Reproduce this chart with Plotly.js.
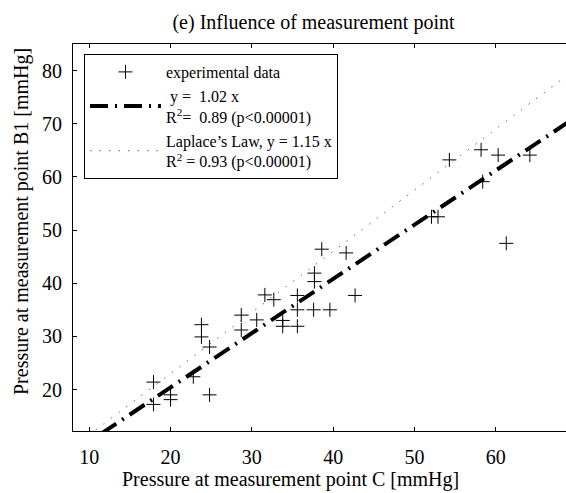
<!DOCTYPE html>
<html>
<head>
<meta charset="utf-8">
<script src="https://cdn.plot.ly/plotly-3.0.1.min.js"></script>
<style>
html, body { margin: 0; padding: 0; overflow: hidden; background: #fff; }
#chart { width: 600px; height: 493px; }
</style>
</head>
<body>
<div id="chart"></div>
<script>
// Measured data: pressure at point C (x) vs point B1 (y), mmHg
const pressureC = [17.9, 17.9, 20.0, 20.0, 22.8, 23.8, 23.8, 24.8, 24.8, 28.7, 28.7, 30.6, 31.6, 32.7, 33.8, 33.8, 35.6, 35.6, 35.6, 37.6, 37.7, 37.7, 38.6, 39.6, 41.6, 42.7, 52.1, 52.9, 54.3, 58.2, 58.4, 60.3, 61.3, 64.2];
const pressureB1 = [21.4, 17.2, 19.0, 18.1, 22.4, 32.2, 29.9, 28.0, 19.0, 34.0, 31.2, 33.1, 37.8, 36.9, 33.0, 31.9, 37.7, 35.0, 31.9, 35.0, 41.9, 40.3, 46.4, 35.0, 45.7, 37.7, 52.5, 52.5, 63.2, 65.1, 59.1, 64.1, 47.5, 64.1];

// Regression line y = 1.02 x and Laplace's law y = 1.15 x (end points)
const fitX = [8, 70];
const fitY = [8.16, 71.4];
const laplaceX = [8, 70];
const laplaceY = [9.2, 80.5];

const legendNames = [
  'experimental data',
  ' y =  1.02 x<br>R<sup>2</sup>=  0.89 (p<0.00001)',
  'Laplace’s Law, y = 1.15 x<br>R<sup>2</sup> = 0.93 (p<0.00001)'
];
const xTicks = [10, 20, 30, 40, 50, 60];
const yTicks = [20, 30, 40, 50, 60, 70, 80];

const serif = 'Liberation Serif, Times New Roman, serif';

const traces = [
  {
    x: pressureC, y: pressureB1, type: 'scatter', mode: 'markers',
    name: legendNames[0],
    marker: { symbol: 'cross-thin-open', size: 10, color: '#000', line: { color: '#000', width: 1 } }
  },
  {
    x: fitX, y: fitY, type: 'scatter', mode: 'lines',
    name: legendNames[1],
    line: { color: '#000', width: 4, dash: '18px,7px,2px,7px' }
  },
  {
    x: laplaceX, y: laplaceY, type: 'scatter', mode: 'lines',
    name: legendNames[2],
    line: { color: '#666', width: 1, dash: '1.5px,8px' }
  }
];

const layout = {
  width: 600, height: 493,
  margin: { l: 73, r: 23, t: 44, b: 62 },
  paper_bgcolor: '#fff', plot_bgcolor: '#fff',
  showlegend: true,
  font: { family: serif, size: 20, color: '#000' },
  title: {
    text: '(e) Influence of measurement point',
    font: { family: serif, size: 20, color: '#000' },
    xref: 'container', yref: 'container',
    x: 313.5 / 600, xanchor: 'center',
    y: 1 - 22 / 493, yanchor: 'middle'
  },
  xaxis: {
    range: [8, 70],
    tickvals: xTicks,
    ticks: 'inside', ticklen: 4, tickcolor: '#000', tickwidth: 1,
    showline: true, linecolor: '#000', linewidth: 1, mirror: 'ticks',
    showgrid: false, zeroline: false,
    tickfont: { family: serif, size: 20, color: '#000' },
    ticklabelstandoff: 8
  },
  yaxis: {
    range: [12.2, 85],
    tickvals: yTicks,
    ticks: 'inside', ticklen: 4, tickcolor: '#000', tickwidth: 1,
    showline: true, linecolor: '#000', linewidth: 1, mirror: 'ticks',
    showgrid: false, zeroline: false,
    tickfont: { family: serif, size: 20, color: '#000' },
    ticklabelstandoff: 6
  },
  legend: {
    x: (84 - 73) / 504, y: 1 - (54 - 44) / 387,
    xanchor: 'left', yanchor: 'top',
    bgcolor: '#fff', bordercolor: '#000', borderwidth: 1,
    font: { family: serif, size: 16, color: '#000' },
    itemwidth: 71, tracegroupgap: 0
  },
  annotations: [
    {
      text: 'Pressure at measurement point C [mmHg]',
      xref: 'paper', yref: 'paper',
      x: (290 - 73) / 504, y: -(479 - 431) / 387,
      xanchor: 'center', yanchor: 'middle', showarrow: false,
      font: { family: serif, size: 20, color: '#000' }
    },
    {
      text: 'Pressure at measurement point B1 [mmHg]',
      xref: 'paper', yref: 'paper',
      x: -(73 - 21) / 504, y: 1 - (222 - 44) / 387,
      xanchor: 'center', yanchor: 'middle', showarrow: false, textangle: -90,
      font: { family: serif, size: 20, color: '#000' }
    }
  ]
};

Plotly.newPlot('chart', traces, layout, { displayModeBar: false, staticPlot: true });
</script>
</body>
</html>
